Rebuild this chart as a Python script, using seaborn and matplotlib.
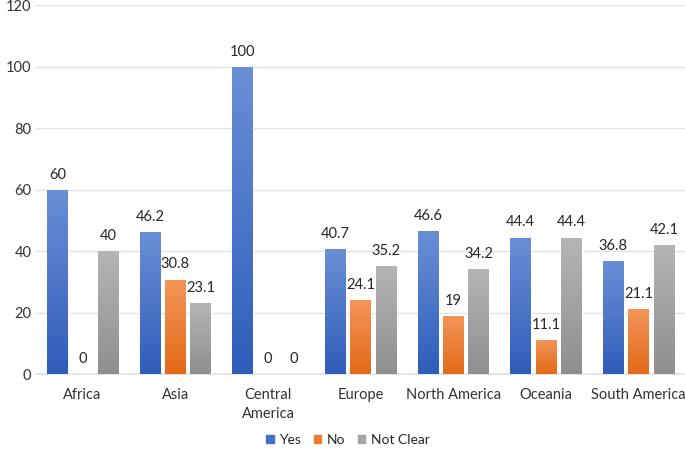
import numpy as np
import pandas as pd
import matplotlib
matplotlib.use("Agg")
import matplotlib.pyplot as plt
import seaborn as sns
from matplotlib.colors import LinearSegmentedColormap

# Data
regions = ["Africa", "Asia", "Central\nAmerica", "Europe", "North America", "Oceania", "South America"]
yes_vals = [60, 46.2, 100, 40.7, 46.6, 44.4, 36.8]
no_vals = [0, 30.8, 0, 24.1, 19, 11.1, 21.1]
unclear_vals = [40, 23.1, 0, 35.2, 34.2, 44.4, 42.1]
answers = ["Yes", "No", "Not Clear"]

# light top -> dark bottom, like the Excel gradient fill
shades = {
    "Yes": ("#6A8FD6", "#2F5DBA"),
    "No": ("#F4955A", "#E36A17"),
    "Not Clear": ("#B5B5B5", "#8F8F8F"),
}
base = {"Yes": "#4472C4", "No": "#ED7D31", "Not Clear": "#A5A5A5"}

df = pd.DataFrame({
    "region": regions * 3,
    "answer": [a for a in answers for _ in regions],
    "value": yes_vals + no_vals + unclear_vals,
})

sns.set_theme(style="white")
plt.rcParams["font.family"] = ["Lato", "DejaVu Sans"]

fig = plt.figure(figsize=(6.85, 4.51), dpi=100)
ax = fig.add_axes([0.053, 0.17, 0.947, 0.818])

sns.barplot(data=df, x="region", y="value", hue="answer", order=regions,
            hue_order=answers, palette=base, width=0.82, gap=0.18,
            ax=ax, legend=False, zorder=3)

# gradient fill on each bar
for container, ans in zip(ax.containers, answers):
    cmap = LinearSegmentedColormap.from_list(ans, [shades[ans][1], shades[ans][0]])
    grad = np.linspace(0, 1, 100).reshape(-1, 1)
    for bar in container:
        h = bar.get_height()
        if h <= 0:
            continue
        x0 = bar.get_x()
        w = bar.get_width()
        im = ax.imshow(grad, cmap=cmap, aspect="auto", origin="lower",
                       extent=[x0, x0 + w, 0, h], zorder=4)
        im.set_clip_path(bar)
    ax.bar_label(container, fmt="%g", padding=6, fontsize=10.5, color="#262626")

ax.set_xlim(-0.5, len(regions) - 0.5)
ax.set_ylim(0, 120)
ax.set_yticks(range(0, 121, 20))
ax.yaxis.grid(True, color="#DDE1EA", linewidth=1, zorder=0)
ax.set_xlabel("")
ax.set_ylabel("")
for side in ["top", "right", "left"]:
    ax.spines[side].set_visible(False)
ax.spines["bottom"].set_color("#DDE1EA")
ax.tick_params(axis="both", length=0, labelsize=10.5, colors="#333333")
ax.tick_params(axis="x", pad=10)
for lbl in ax.get_xticklabels():
    lbl.set_linespacing(1.45)

handles = [plt.Rectangle((0, 0), 1, 1, color=base[a]) for a in answers]
fig.legend(handles, answers, loc="center", ncol=3, frameon=False,
           fontsize=10, handlelength=0.55, handleheight=0.55, handletextpad=0.4,
           columnspacing=0.9, borderpad=0.2, bbox_to_anchor=(0.508, 0.025))

fig.savefig("out.png", dpi=100)
